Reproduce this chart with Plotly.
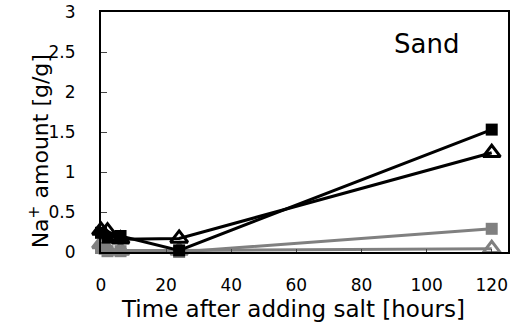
import plotly.graph_objects as go

times = [0, 2, 6, 24, 120]
black_sq = [0.24, 0.18, 0.2, 0.02, 1.53]
black_tri = [0.27, 0.26, 0.16, 0.17, 1.24]
gray_sq = [0.05, 0.01, 0.01, 0.0, 0.29]
gray_tri = [0.1, 0.03, 0.02, 0.02, 0.04]

x_ticks = [0, 20, 40, 60, 80, 100, 120]
y_ticks = [0, 0.5, 1, 1.5, 2, 2.5, 3]
y_tick_text = ["0", "0.5", "1", "1.5", "2", "2.5", "3"]

GRAY = "#808080"
fig = go.Figure()
fig.add_trace(go.Scatter(x=times, y=gray_tri, mode="lines+markers", cliponaxis=False,
                         line=dict(color=GRAY, width=3),
                         marker=dict(symbol="triangle-up-open", size=15, color=GRAY, line=dict(width=3, color=GRAY))))
fig.add_trace(go.Scatter(x=times, y=gray_sq, mode="lines+markers", cliponaxis=False,
                         line=dict(color=GRAY, width=3),
                         marker=dict(symbol="square", size=12, color=GRAY)))
fig.add_trace(go.Scatter(x=times, y=black_tri, mode="lines+markers", cliponaxis=False,
                         line=dict(color="black", width=3),
                         marker=dict(symbol="triangle-up-open", size=15, color="black", line=dict(width=3, color="black"))))
fig.add_trace(go.Scatter(x=times, y=black_sq, mode="lines+markers", cliponaxis=False,
                         line=dict(color="black", width=3),
                         marker=dict(symbol="square", size=12, color="black")))

font_family = "DejaVu Sans, sans-serif"
fig.update_layout(
    width=517, height=327,
    margin=dict(l=101, r=9, t=12, b=75, autoexpand=False),
    plot_bgcolor="white", paper_bgcolor="white",
    showlegend=False,
    font=dict(family=font_family, size=17, color="black"),
    xaxis=dict(range=[0, 125], tickvals=x_ticks, ticks="outside", ticklen=17,
               tickcolor="rgba(0,0,0,0)",
               showline=True, linecolor="black", linewidth=2, mirror=True,
               showgrid=False, zeroline=False,
               tickfont=dict(size=17)),
    xaxis2=dict(range=[0, 125], tickvals=x_ticks, ticks="inside", ticklen=3,
                overlaying="x", side="bottom", anchor="y",
                showticklabels=False, showgrid=False, zeroline=False, showline=False),
    yaxis=dict(range=[0, 3], tickvals=y_ticks, ticktext=y_tick_text, ticks="inside", ticklen=6,
               showline=True, linecolor="black", linewidth=2, mirror=True,
               showgrid=False, zeroline=False, ticklabelstandoff=20,
               tickfont=dict(size=17)),
    annotations=[
        dict(text="Sand", x=0.80, y=0.865, xref="paper", yref="paper",
             showarrow=False, font=dict(size=26), xanchor="center", yanchor="middle"),
        dict(text="Time after adding salt [hours]", x=0.472, y=-0.238, xref="paper", yref="paper",
             showarrow=False, font=dict(size=23), xanchor="center", yanchor="middle"),
        dict(text="Na<sup>+</sup> amount [g/g]", x=-0.152, y=0.42, xref="paper", yref="paper",
             showarrow=False, font=dict(size=22), textangle=-90, xanchor="center", yanchor="middle"),
    ],
)
# invisible helper trace so the overlay axis (inside tick marks) is drawn
fig.add_trace(go.Scatter(x=[None], y=[None], xaxis="x2", yaxis="y", showlegend=False, hoverinfo="skip"))
fig.write_html("out.html", config={"displayModeBar": False},
               post_script="document.body.style.margin='0px';")
